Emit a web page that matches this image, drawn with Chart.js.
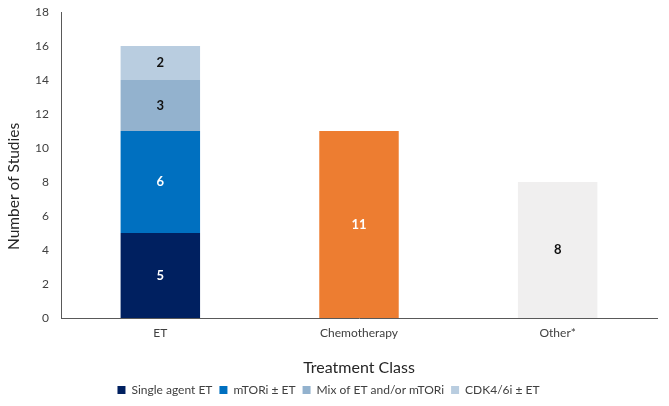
<!DOCTYPE html>
<html>
<head>
<meta charset="utf-8">
<script src="https://cdn.jsdelivr.net/npm/chart.js@4"></script>
<style>
  html, body { margin: 0; padding: 0; background: #fff; }
  #wrap { width: 669px; height: 406px; }
</style>
</head>
<body>
<div id="wrap"><canvas id="myChart"></canvas></div>
<script>
const categories = ['ET', 'Chemotherapy', 'Other*'];
const singleAgentET = [5, null, null];
const mTORiET = [6, null, null];
const mixETmTORi = [3, null, null];
const cdk46iET = [2, null, null];
const chemotherapy = [null, 11, null];
const other = [null, null, 8];
const yTicks = [0, 2, 4, 6, 8, 10, 12, 14, 16, 18];
const yTitle = 'Number of Studies';

const FONT = 'Lato, "Open Sans", sans-serif';

// draws the numbers in the middle of each segment
const segmentLabels = {
  id: 'segmentLabels',
  afterDatasetsDraw(chart) {
    const ctx = chart.ctx;
    ctx.save();
    ctx.font = 'bold 13px ' + FONT;
    ctx.textAlign = 'center';
    ctx.textBaseline = 'middle';
    chart.data.datasets.forEach((ds, i) => {
      const meta = chart.getDatasetMeta(i);
      meta.data.forEach((bar, j) => {
        const v = ds.data[j];
        if (v == null) return;
        ctx.fillStyle = ds.labelColor;
        ctx.fillText(v, bar.x, (bar.y + bar.base) / 2);
      });
    });
    ctx.restore();
  }
};

// y title sits a bit below the middle of the plot, like the original
const yTitlePlugin = {
  id: 'yTitlePlugin',
  afterDraw(chart) {
    const ctx = chart.ctx;
    const area = chart.chartArea;
    ctx.save();
    ctx.translate(14, area.top + (area.bottom - area.top) * 0.57);
    ctx.rotate(-Math.PI / 2);
    ctx.font = '15.5px ' + FONT;
    ctx.fillStyle = '#262626';
    ctx.textAlign = 'center';
    ctx.textBaseline = 'middle';
    ctx.fillText(yTitle, 0, 0);
    ctx.restore();
  }
};

const ctx = document.getElementById('myChart').getContext('2d');
new Chart(ctx, {
  type: 'bar',
  data: {
    labels: categories,
    datasets: [
      { label: 'Single agent ET', data: singleAgentET, backgroundColor: '#002060', labelColor: '#ffffff' },
      { label: 'mTORi ± ET', data: mTORiET, backgroundColor: '#0070C0', labelColor: '#ffffff' },
      { label: 'Mix of ET and/or mTORi', data: mixETmTORi, backgroundColor: '#93B2CE', labelColor: '#111111' },
      { label: 'CDK4/6i ± ET', data: cdk46iET, backgroundColor: '#B9CDE0', labelColor: '#111111' },
      { label: 'Chemotherapy', data: chemotherapy, backgroundColor: '#ED7D31', labelColor: '#ffffff' },
      { label: 'Other*', data: other, backgroundColor: '#F0EFEF', labelColor: '#111111' }
    ]
  },
  options: {
    responsive: true,
    maintainAspectRatio: false,
    animation: false,
    categoryPercentage: 1,
    barPercentage: 0.4,
    layout: { padding: { left: 0, right: 12, top: 12, bottom: 0 } },
    plugins: {
      legend: {
        position: 'bottom',
        labels: {
          filter: (item) => item.datasetIndex < 4,
          boxWidth: 8,
          boxHeight: 8,
          padding: 7,
          font: { size: 12, family: FONT },
          color: '#404040'
        }
      },
      tooltip: { enabled: false }
    },
    scales: {
      x: {
        stacked: true,
        grid: { display: false, drawTicks: false },
        border: { color: '#595959', width: 1 },
        ticks: { font: { size: 12, family: FONT }, color: '#404040', padding: 8 },
        title: {
          display: true,
          text: 'Treatment Class',
          font: { size: 16, family: FONT },
          color: '#262626',
          padding: { top: 0, bottom: 0 }
        },
        afterFit: (axis) => { axis.height = 59; }
      },
      y: {
        stacked: true,
        min: 0,
        max: 18,
        afterBuildTicks: (axis) => { axis.ticks = yTicks.map(v => ({ value: v })); },
        grid: { display: false, drawTicks: false },
        border: { color: '#595959', width: 1 },
        ticks: { font: { size: 12, family: FONT }, color: '#404040', padding: 12 },
        title: { display: false },
        afterFit: (axis) => {
          axis.width = 61;
          axis.paddingTop = 0;
          axis.paddingBottom = 0;
        }
      }
    }
  },
  plugins: [segmentLabels, yTitlePlugin]
});
</script>
</body>
</html>
